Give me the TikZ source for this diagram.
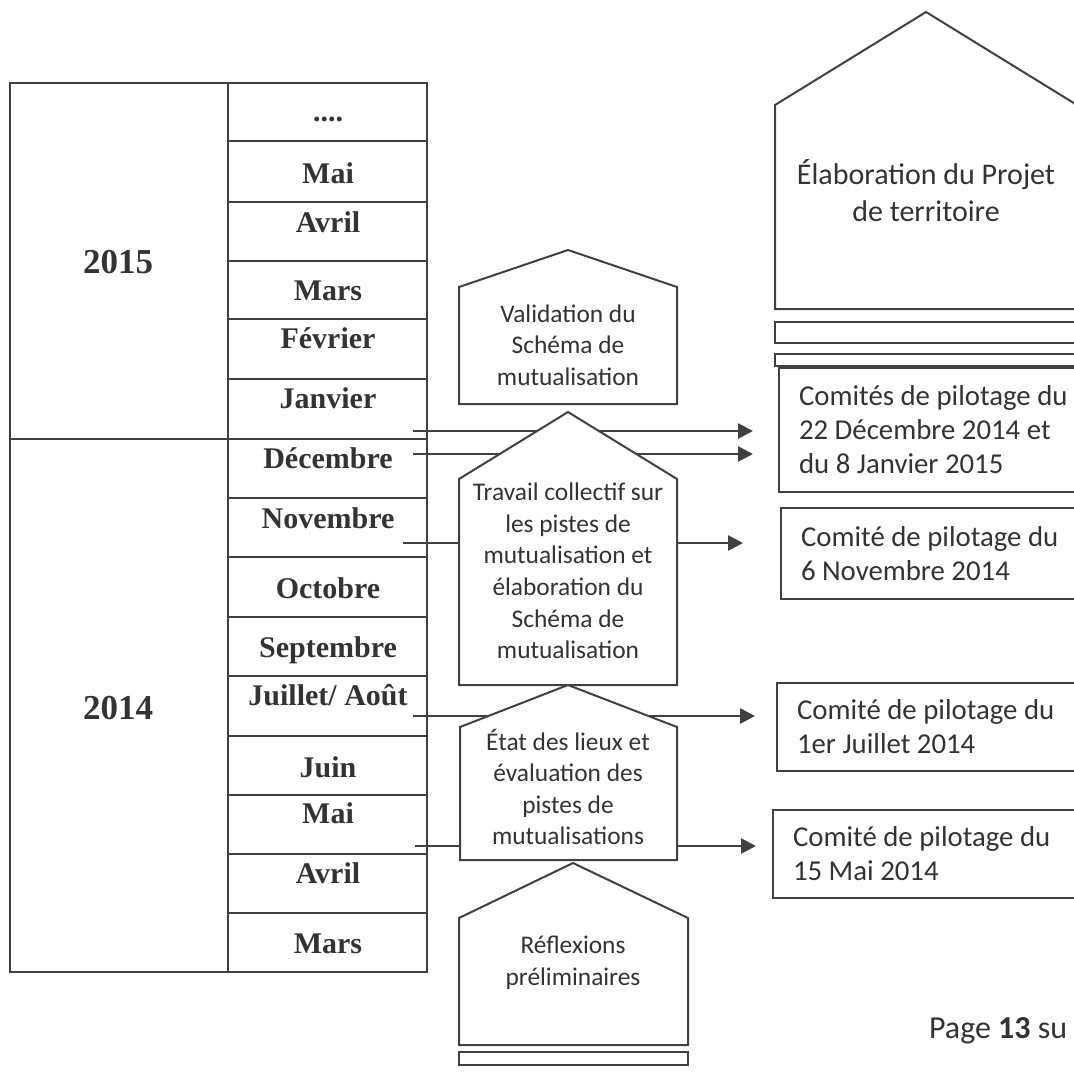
\documentclass[tikz,border=0pt]{standalone}
\usepackage{fontspec}
\setmainfont{Liberation Serif}
\newfontfamily\calibri{Carlito}
\usetikzlibrary{arrows.meta}
\colorlet{ink}{black!75}
\colorlet{inktext}{black!80}
\tikzset{
  grid line/.style={draw=ink, line width=1pt},
  month/.style={anchor=base, font=\bfseries\fontsize{15}{18}\selectfont, text=inktext},
  year/.style={anchor=base, font=\bfseries\fontsize{17.5}{21}\selectfont, text=inktext},
  house/.style={draw=ink, line width=1pt, fill=white},
  phase/.style={align=center, font=\calibri\fontsize{12.7}{15.8}\selectfont, text=inktext},
  comite/.style={draw=ink, line width=1pt, anchor=west, align=flush left, text width=150pt,
                 inner xsep=10pt, font=\calibri\fontsize{14.4}{17}\selectfont, text=inktext},
  flow/.style={draw=ink, line width=1.35pt, -{Triangle[length=7.5pt,width=7.5pt]}},
}
\begin{document}
\begin{tikzpicture}[x=0.5pt, y=-0.5pt]
  \useasboundingbox (0,0) rectangle (1074,1072);

  % tableau des mois
  \draw[grid line] (10,83) rectangle (427,972);
  \draw[grid line] (228,83) -- (228,972);
  \draw[grid line] (10,439) -- (427,439);
  \foreach \y in {141,202,261,319,379,498,557,617,676,736,795,854,913}
    \draw[grid line] (228,\y) -- (427,\y);

  \node[year] (y2015) at (118,273) {2015};
  \node[year] (y2014) at (118,719) {2014};

  \foreach \m/\y [count=\i] in {{....}/121, Mai/183, Avril/232, Mars/300, Février/348,
      Janvier/408, Décembre/468, Novembre/528, Octobre/598, Septembre/657,
      {Juillet/ Août}/705, Juin/777, Mai/823, Avril/883, Mars/953}
    \node[month] (m\i) at (328,\y) {\m};

  % comites de pilotage
  \node[comite, minimum height=62pt] (cdec) at (778,430)
    {Comités de pilotage du\\22 Décembre 2014 et\\du 8 Janvier 2015};
  \node[comite, minimum height=45.5pt] (cnov) at (780,553.5)
    {Comité de pilotage du\\6 Novembre 2014};
  \node[comite, minimum height=44pt] (cjul) at (776,727)
    {Comité de pilotage du\\1er Juillet 2014};
  \node[comite, minimum height=44pt] (cmai) at (772,854)
    {Comité de pilotage du\\15 Mai 2014};

  % fleches
  \coordinate (a1) at (413,431);
  \coordinate (a2) at (413,454);
  \coordinate (a3) at (403,543);
  \coordinate (a4) at (413,716);
  \coordinate (a5) at (415,846);
  \draw[flow, shorten >=12.5pt] (a1) -- (a1 -| cdec.west);
  \draw[flow, shorten >=12.5pt] (a2) -- (a2 -| cdec.west);
  \draw[flow, shorten >=18.5pt] (a3) -- (a3 -| cnov.west);
  \draw[flow, shorten >=10.5pt] (a4) -- (a4 -| cjul.west);
  \draw[flow, shorten >=8pt]    (a5) -- (a5 -| cmai.west);

  % etapes
  \draw[house] (459,404) -- (459,287) -- (568,250) -- (677,287) -- (677,404) -- cycle;
  \node[phase] (valid) at (568,345) {Validation du\\Schéma de\\mutualisation};

  \draw[house] (459,685) -- (459,479) -- (568,412) -- (677,479) -- (677,685) -- cycle;
  \node[phase] (travail) at (568,571)
    {Travail collectif sur\\les pistes de\\mutualisation et\\élaboration du\\Schéma de\\mutualisation};

  \draw[house] (460,860) -- (460,727) -- (568,685) -- (677,727) -- (677,860) -- cycle;
  \node[phase] (etat) at (568,787) {État des lieux et\\évaluation des\\pistes de\\mutualisations};

  \draw[house] (459,1045) -- (459,918) -- (573,863) -- (688,918) -- (688,1045) -- cycle;
  \draw[house] (459,1052) rectangle (688,1065);
  \node[phase] (reflex) at (573,963) {Réflexions\\préliminaires};

  \draw[house] (775,309) -- (775,105) -- (926,12) -- (1077,105) -- (1077,309) -- cycle;
  \draw[house] (775,322) rectangle (1100,343);
  \draw[house] (775,354) rectangle (1100,366);
  \node[phase, font=\calibri\fontsize{15}{18.5}\selectfont] (projet) at (926,191)
    {Élaboration du Projet\\de territoire};

  \node[anchor=base west, font=\calibri\fontsize{16}{19}\selectfont, text=inktext] (page)
    at (922,1038) {Page \textbf{13} su};
\end{tikzpicture}
\end{document}
